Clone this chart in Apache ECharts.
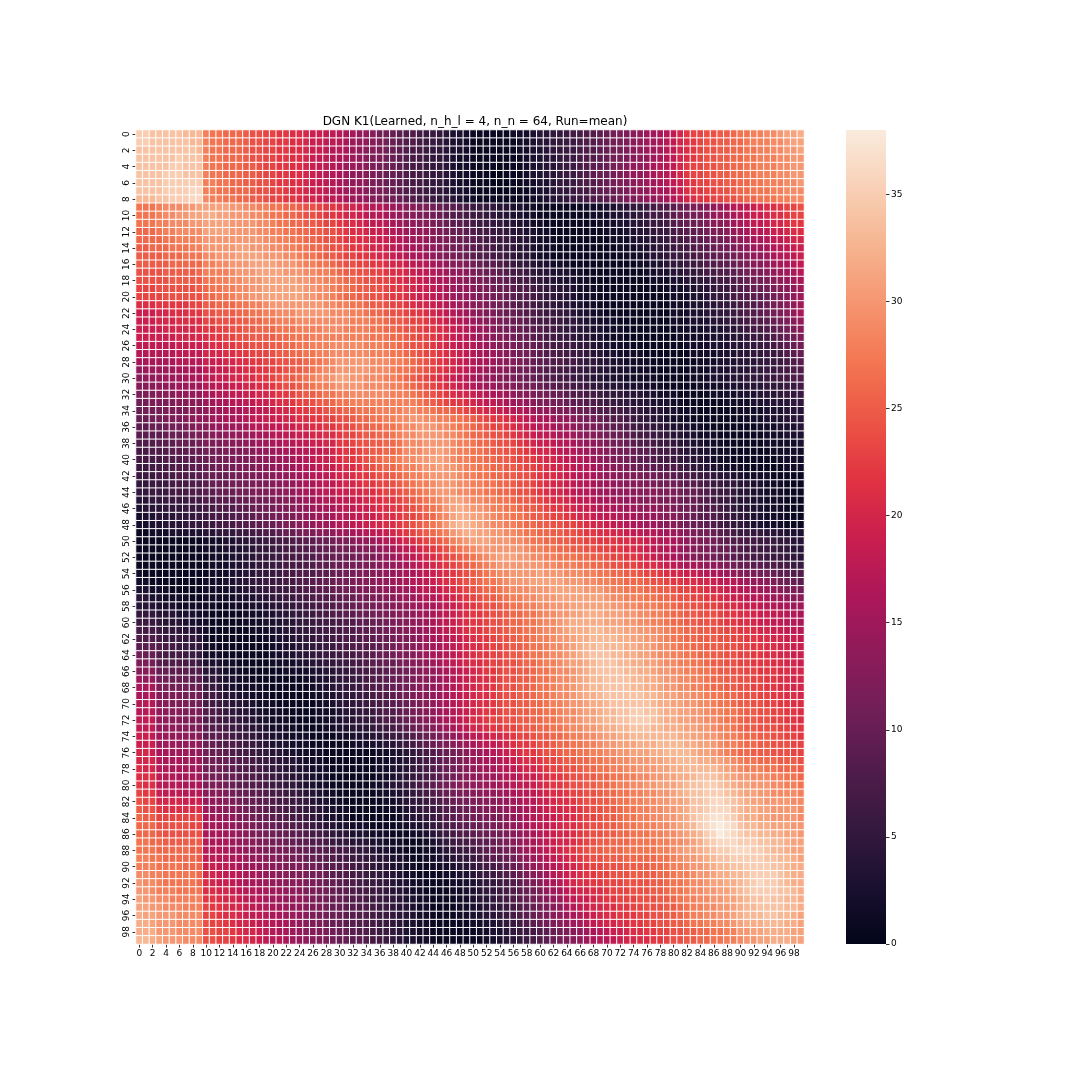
<!DOCTYPE html>
<html>
<head>
<meta charset="utf-8">
<script src="https://cdn.jsdelivr.net/npm/echarts@6/dist/echarts.min.js"></script>
<style>
  html, body { margin: 0; padding: 0; background: #fff; }
  #chart-container { width: 1080px; height: 1080px; }
</style>
</head>
<body>
<div id="chart-container"></div>
<script>
// node indices used as categories on both axes
const nodeIndex = [0,1,2,3,4,5,6,7,8,9,10,11,12,13,14,15,16,17,18,19,20,21,22,23,24,25,26,27,28,29,30,31,32,33,34,35,36,37,38,39,40,41,42,43,44,45,46,47,48,49,50,51,52,53,54,55,56,57,58,59,60,61,62,63,64,65,66,67,68,69,70,71,72,73,74,75,76,77,78,79,80,81,82,83,84,85,86,87,88,89,90,91,92,93,94,95,96,97,98,99];
const colorbarTicks = [0, 5, 10, 15, 20, 25, 30, 35];
const colorMax = 38;

// K1 values, one row per node (row i, column j)
const kernelRows = [
[35,35,34,34,34,34,34,33,33,33,28,27,27,26,26,26,25,24,24,23,23,22,22,21,21,20,19,19,18,18,17,16,16,14,14,13,11,11,10,9,8,8,7,6,6,5,4,3,3,2,1,1,1,1,1,1,2,2,2,3,4,4,5,5,6,7,7,8,8,9,10,11,12,12,13,14,15,15,16,17,18,20,22,23,23,24,24,25,25,26,27,27,28,28,29,29,30,31,31,32],
[35,35,34,34,34,34,34,34,33,33,28,27,27,26,26,26,25,24,24,23,23,22,22,21,21,20,19,19,18,18,17,16,15,14,14,13,12,11,10,9,8,8,7,6,6,5,4,3,3,2,1,1,1,1,1,1,1,2,2,3,4,4,5,5,6,6,7,8,8,9,10,11,11,12,13,14,15,15,16,17,18,20,21,22,23,24,24,25,25,26,26,27,28,28,28,29,29,30,31,31],
[34,34,34,34,34,34,34,34,34,33,28,27,27,26,26,26,25,24,24,23,23,22,22,21,21,20,19,19,18,17,17,16,15,14,13,13,12,11,10,9,8,7,7,6,5,5,4,3,3,2,1,1,1,1,1,1,1,2,2,3,3,4,5,5,6,6,7,8,8,9,10,11,11,12,13,14,15,15,16,17,18,20,21,22,23,24,24,25,25,26,26,27,27,28,28,29,29,30,30,31],
[34,34,34,34,34,34,35,34,34,34,28,27,27,26,26,26,25,24,24,23,23,22,22,21,21,20,19,18,18,17,16,16,15,14,13,12,12,11,10,9,8,7,7,6,5,5,4,3,2,2,1,1,1,1,1,1,1,1,2,3,3,4,4,5,6,6,7,8,8,9,10,11,11,12,13,14,14,15,16,17,18,20,21,22,23,24,24,25,25,26,26,27,27,28,28,28,29,29,30,30],
[34,34,34,34,34,35,35,34,34,34,28,27,27,26,26,26,25,25,24,23,23,22,22,21,21,20,19,18,18,17,16,15,15,14,13,12,11,11,10,9,8,7,7,6,5,5,4,3,2,2,1,1,1,1,0,1,1,1,2,3,3,4,4,5,6,6,7,8,9,9,10,11,12,13,14,14,15,16,17,17,18,20,22,23,23,24,24,25,25,26,26,27,27,28,28,28,29,29,30,30],
[34,34,34,34,35,35,35,34,34,34,28,27,27,26,26,26,25,25,24,23,23,22,22,21,21,20,19,18,17,17,16,15,14,13,13,12,11,10,10,9,8,7,7,6,5,5,4,3,2,2,1,1,1,0,0,1,1,1,2,3,3,4,4,5,6,6,7,8,9,10,10,11,12,13,14,14,15,16,17,17,18,20,22,23,23,24,24,25,25,26,26,27,27,28,28,28,29,29,30,30],
[34,34,34,34,35,35,35,35,35,35,28,28,27,27,26,26,25,25,24,24,23,22,22,21,21,20,19,18,18,17,16,15,14,14,13,12,11,10,10,9,8,7,7,6,5,5,4,3,2,2,1,1,1,0,0,0,1,1,2,2,3,3,4,5,5,6,7,8,8,9,10,11,12,12,13,14,15,15,16,17,18,19,21,22,23,23,24,24,25,25,26,26,27,27,28,28,28,29,29,30],
[34,34,34,34,35,35,35,35,36,36,28,28,27,27,26,26,26,25,24,24,23,23,22,21,21,20,19,19,18,17,16,15,15,14,13,12,12,11,10,9,8,8,7,6,5,5,4,3,3,2,1,1,1,1,0,0,1,1,1,2,3,3,4,5,5,6,7,7,8,9,10,10,11,12,13,14,14,15,16,16,17,19,21,22,22,23,23,24,24,25,26,26,27,27,27,28,28,29,29,29],
[33,33,33,34,34,35,35,35,36,36,29,28,28,27,27,26,26,25,25,24,23,23,22,22,21,20,20,19,18,18,17,16,15,14,14,13,12,11,11,10,9,8,7,7,6,5,5,4,3,2,2,1,1,1,1,1,1,1,1,2,2,3,4,4,5,6,6,7,8,8,9,10,11,12,12,13,14,14,15,16,17,18,20,21,22,22,23,23,24,24,25,26,26,27,27,27,28,28,29,29],
[27,27,27,28,29,29,29,30,30,31,31,31,31,31,30,30,29,29,28,28,27,27,26,26,25,24,24,23,22,22,21,20,20,19,18,17,17,16,15,14,13,13,12,12,11,10,9,9,8,7,6,6,5,5,4,4,3,3,2,2,1,1,1,1,1,1,1,2,2,2,3,3,4,4,5,5,6,7,8,8,9,10,11,12,12,13,14,15,16,17,18,18,19,20,21,21,22,23,23,24],
[27,27,27,28,29,29,30,30,31,31,32,32,31,31,30,30,30,29,29,28,27,27,26,26,25,24,24,23,22,22,21,20,20,19,18,17,17,16,15,14,13,13,12,12,11,10,9,8,8,7,6,6,5,5,4,4,3,3,2,2,1,1,1,1,1,1,1,1,2,2,2,3,3,4,4,5,6,7,7,8,9,10,11,11,12,13,14,15,15,16,17,18,19,19,20,21,21,22,23,23],
[27,27,27,28,28,29,29,29,30,30,31,31,31,31,30,30,30,30,29,29,28,27,27,26,26,25,25,24,23,23,22,21,21,20,19,18,18,17,16,15,14,14,13,13,12,11,10,9,9,8,7,6,6,5,5,4,4,3,3,2,2,1,1,1,1,1,1,1,1,2,2,2,3,3,4,4,5,6,6,7,8,9,10,10,11,12,13,13,14,15,16,17,18,18,19,20,20,21,22,22],
[26,26,26,27,28,28,29,29,29,29,31,31,31,31,30,30,30,30,29,29,28,28,27,27,26,26,25,25,24,24,23,22,21,21,20,19,19,18,17,16,15,15,14,14,13,12,11,10,10,9,8,7,7,6,6,5,4,4,3,3,2,2,1,1,1,1,1,1,1,1,2,2,2,3,3,4,4,5,6,6,7,8,9,9,10,11,12,12,13,14,15,16,17,17,18,19,19,20,21,21],
[26,26,26,26,27,27,28,28,28,29,30,30,30,30,30,30,30,30,30,29,29,28,28,27,27,26,26,25,24,24,23,22,22,21,21,20,19,19,18,17,16,15,15,14,13,12,12,11,10,10,9,8,7,7,6,6,5,4,4,3,2,2,2,1,1,1,1,1,1,1,1,2,2,2,3,3,4,4,5,6,7,7,8,9,9,10,11,11,12,13,14,15,16,16,17,18,18,19,20,20],
[25,25,26,26,26,27,27,27,28,28,30,30,30,30,30,31,31,30,30,30,29,29,28,28,27,27,26,26,25,24,24,23,22,22,21,20,20,19,18,17,16,16,15,14,14,13,12,11,11,10,9,8,8,7,6,6,5,4,4,3,2,2,2,1,1,1,1,1,1,1,1,1,2,2,2,3,3,4,5,5,6,7,7,8,9,9,10,11,11,12,13,14,15,15,16,17,17,18,19,19],
[25,25,25,25,26,26,26,27,27,27,29,29,30,30,30,31,31,31,31,30,30,30,29,29,28,27,27,26,25,25,24,23,23,22,22,21,20,20,19,18,17,16,16,15,14,13,12,12,11,10,9,8,8,7,7,6,5,4,4,3,2,2,1,1,1,1,1,1,1,1,1,1,1,2,2,2,3,4,4,5,6,6,7,7,8,9,9,10,10,11,12,13,14,14,15,16,17,17,18,19],
[25,25,25,25,25,26,26,26,26,26,28,28,29,29,30,30,30,31,31,31,31,30,30,30,29,28,28,27,27,26,25,24,24,23,23,22,22,21,20,20,19,18,17,17,16,15,14,13,13,12,11,10,9,9,8,7,6,5,5,4,3,3,2,2,2,1,1,1,1,1,1,1,1,1,1,2,2,3,3,4,5,5,6,6,7,8,8,9,9,10,11,12,13,13,14,15,16,16,17,18],
[24,24,24,24,25,25,25,25,25,26,28,28,28,28,29,30,30,30,31,31,31,31,30,30,30,29,29,28,28,27,26,25,25,24,24,23,23,22,21,21,20,19,18,18,17,16,15,14,14,13,12,11,10,10,9,8,7,7,6,5,4,4,3,3,3,2,2,1,1,1,1,1,1,1,1,1,2,2,3,3,4,4,5,5,6,7,7,8,8,9,10,11,12,12,13,14,15,15,16,17],
[24,24,24,24,24,25,25,25,25,25,27,27,28,28,29,29,30,30,30,31,31,31,31,31,30,30,29,29,28,28,27,26,26,25,24,24,23,23,22,21,20,20,19,18,17,16,16,15,14,13,12,12,11,10,10,9,8,7,7,6,5,4,4,3,3,3,2,2,1,1,1,1,1,1,1,1,1,2,2,2,3,3,4,4,5,5,6,7,7,8,9,10,11,11,12,13,14,14,15,16],
[23,23,23,24,24,24,24,24,24,25,26,27,27,28,28,29,29,30,30,31,31,31,31,31,31,30,30,29,29,28,27,27,26,25,25,24,24,23,22,22,21,20,19,19,18,17,16,15,14,14,13,12,12,11,10,10,9,8,8,7,6,5,5,4,4,3,2,2,2,1,1,1,1,1,1,1,1,1,1,2,2,2,3,3,4,4,5,6,6,7,8,9,10,10,11,12,13,13,14,15],
[23,23,23,23,24,24,24,24,24,24,26,26,27,27,28,29,29,30,30,31,31,31,31,31,31,30,30,29,29,28,27,26,26,25,25,24,24,23,22,22,21,20,19,19,18,17,16,15,14,14,13,12,12,11,11,10,9,8,8,7,6,5,5,4,4,3,2,2,2,1,1,1,1,1,1,1,1,1,1,1,2,2,2,3,3,4,5,5,6,7,8,8,9,9,10,11,12,13,14,15],
[21,21,21,22,22,22,22,22,23,23,25,25,26,26,26,27,27,28,28,29,30,30,30,30,30,30,30,30,29,29,28,28,27,27,26,25,25,24,23,23,22,21,20,20,19,18,17,16,15,14,13,13,12,11,11,10,9,8,8,7,6,5,5,4,4,3,3,2,2,1,1,1,1,1,1,1,1,1,1,1,2,2,2,3,3,4,4,5,5,6,7,8,8,9,10,11,12,13,14,15],
[19,19,19,20,20,21,21,21,22,22,24,24,25,25,25,26,26,27,27,28,28,29,29,29,30,30,30,30,30,29,29,29,28,28,27,26,26,25,24,24,23,22,22,21,20,19,18,17,16,15,14,13,12,12,11,10,10,9,8,8,7,6,6,5,5,4,3,3,2,2,1,1,1,1,1,1,1,1,1,1,2,2,2,3,3,4,4,5,5,6,7,8,8,9,10,11,12,13,14,16],
[19,19,19,20,20,20,21,21,21,21,23,23,24,24,24,25,25,26,26,27,27,28,28,28,29,29,29,29,29,29,29,29,28,28,28,27,27,26,25,25,24,23,23,22,21,20,19,18,17,16,15,14,13,13,12,11,10,10,9,8,7,7,6,6,5,5,4,3,3,2,2,2,1,1,1,1,1,1,1,1,2,2,2,3,3,3,4,4,5,5,6,7,8,8,9,10,11,12,13,14],
[19,19,19,19,20,20,20,20,20,21,22,22,23,23,24,24,25,25,26,26,26,27,27,27,28,28,28,28,29,29,29,28,28,28,28,27,27,26,26,25,24,24,23,22,22,21,20,19,18,17,16,15,14,13,12,11,11,10,9,9,8,7,7,6,5,5,4,4,3,3,2,2,2,1,1,1,1,1,1,1,1,2,2,2,2,3,3,3,4,4,5,6,7,7,8,9,10,11,12,13],
[19,19,19,19,19,19,20,20,20,20,21,22,22,23,23,24,24,25,25,25,25,26,26,27,27,27,28,28,28,28,28,28,28,28,28,27,27,27,26,26,25,24,23,23,22,21,20,19,18,17,16,15,14,13,13,12,11,10,10,9,8,7,7,6,6,5,4,4,3,3,2,2,2,1,1,1,1,1,1,1,1,2,2,2,2,2,3,3,3,4,4,5,6,6,7,8,9,10,11,12],
[18,18,18,18,18,18,19,19,19,19,20,21,21,22,22,23,23,24,24,24,25,25,26,26,27,27,28,28,28,29,29,29,29,29,28,28,28,27,27,26,25,24,24,23,22,21,20,19,18,18,17,16,15,14,13,12,12,11,10,10,9,8,7,7,6,6,5,5,4,3,3,2,2,2,1,1,1,1,1,1,1,1,2,2,2,2,3,3,3,4,4,5,5,6,6,7,8,9,10,11],
[17,17,17,17,17,17,18,18,18,18,20,20,20,21,21,22,22,23,23,23,24,25,25,26,26,27,27,28,28,29,29,29,29,29,29,28,28,28,27,27,26,25,24,23,23,22,21,20,19,18,17,16,15,15,14,13,12,11,11,10,9,8,8,7,7,6,6,5,4,4,3,3,2,2,2,2,1,1,1,1,1,1,1,2,2,2,2,3,3,3,4,4,5,5,6,6,7,8,9,10],
[16,16,16,16,16,16,17,17,17,17,19,19,19,20,20,21,21,22,22,23,23,24,24,25,25,26,27,27,28,29,30,30,30,30,30,29,29,29,28,28,27,26,25,24,23,22,21,20,19,18,17,16,16,15,14,13,13,12,11,10,9,9,8,8,7,7,6,5,5,4,4,3,3,2,2,2,2,1,1,1,1,1,1,1,2,2,2,3,3,3,4,4,4,5,5,6,6,7,8,9],
[14,15,15,15,15,15,16,16,16,16,18,18,19,19,20,20,21,21,22,22,23,23,24,25,25,26,27,28,29,29,30,30,30,30,30,29,29,29,28,27,27,26,25,24,23,22,21,20,19,18,17,16,15,14,14,13,12,11,11,10,9,8,8,7,7,6,6,5,5,4,4,3,3,3,2,2,2,1,1,1,1,1,1,2,2,2,3,3,3,4,4,4,5,5,6,6,7,7,8,8],
[13,14,14,14,15,15,15,16,16,16,18,18,19,19,20,20,21,21,22,22,23,24,25,25,26,27,28,29,29,30,31,31,30,30,29,29,29,28,28,27,26,25,24,23,22,21,20,19,18,17,16,15,14,14,13,12,12,11,10,10,9,8,8,7,7,6,6,5,4,4,3,3,3,2,2,2,2,2,1,1,1,1,1,2,2,2,3,3,3,4,4,5,5,5,6,6,7,7,8,8],
[13,13,13,14,14,14,15,15,15,15,17,17,18,18,19,19,20,20,21,21,22,23,24,24,25,26,27,28,28,29,30,30,30,30,29,29,29,29,28,28,27,26,25,24,23,22,21,20,19,18,17,16,15,15,14,13,13,12,11,11,10,9,9,8,8,7,7,6,5,5,4,4,4,3,3,3,2,2,2,1,1,1,1,1,2,2,2,2,3,3,3,4,4,4,5,5,5,6,6,7],
[12,12,12,13,13,13,14,14,14,14,16,16,17,17,18,18,19,19,20,20,21,22,22,23,24,25,25,26,27,27,28,28,29,29,29,29,29,29,28,28,28,27,26,25,24,23,22,21,20,20,19,18,17,16,16,15,14,13,13,12,11,11,10,10,9,8,8,7,7,6,5,5,5,4,4,4,3,3,2,2,2,1,1,1,1,1,2,2,2,2,3,3,3,4,4,4,5,5,5,6],
[11,11,12,12,12,12,13,13,13,13,15,15,16,16,17,17,18,18,19,19,20,21,21,22,23,23,24,25,25,26,27,27,28,28,28,28,28,28,28,28,28,28,27,26,25,24,23,22,22,21,20,19,18,18,17,16,15,15,14,13,12,12,11,11,10,9,9,8,8,7,6,6,5,5,4,4,4,3,3,3,2,2,1,1,1,1,1,1,2,2,2,2,3,3,3,4,4,4,5,5],
[10,11,11,11,12,12,12,12,13,13,14,15,15,16,16,16,17,17,18,18,19,20,20,21,22,22,23,23,24,25,25,26,26,27,27,27,28,28,28,28,29,29,28,28,27,26,26,25,24,23,22,21,20,20,19,18,17,17,16,15,14,14,13,12,12,11,10,10,9,8,8,7,7,6,6,5,4,4,4,3,3,2,2,2,1,1,1,1,1,1,2,2,2,2,3,3,3,4,4,4],
[10,10,11,11,12,12,12,13,13,14,14,15,15,16,16,16,17,18,18,19,19,19,20,20,21,21,22,22,23,23,24,24,25,26,26,27,27,28,28,29,29,30,30,29,29,28,28,27,27,26,25,24,23,22,22,21,20,19,18,17,16,16,15,14,14,13,12,11,11,10,9,8,8,7,6,5,5,4,4,3,2,2,2,1,1,1,1,1,1,1,1,2,2,2,3,3,3,4,4,4],
[9,9,10,10,11,11,11,12,12,13,13,14,14,15,15,15,16,17,17,18,18,18,19,19,20,20,21,21,22,22,23,23,24,25,25,26,26,27,27,28,29,29,30,30,30,29,29,28,27,27,26,25,24,23,23,22,21,20,19,18,17,17,16,15,15,14,13,12,12,11,10,9,9,8,7,6,6,5,5,4,3,3,3,2,2,1,1,1,1,1,1,1,1,2,2,2,3,3,3,4],
[9,9,9,9,10,10,10,11,11,12,12,13,13,14,14,14,15,15,16,16,17,17,18,18,19,19,20,20,21,21,22,23,23,24,25,25,26,26,27,28,29,29,30,30,30,30,29,29,28,27,26,26,25,24,24,23,22,21,20,19,18,18,17,16,16,15,14,13,13,12,11,10,10,9,8,7,7,6,6,5,4,4,3,3,2,2,2,1,1,1,1,1,1,1,2,2,2,3,3,3],
[8,8,8,9,9,9,10,10,10,11,12,12,12,13,13,13,14,14,15,15,16,16,17,17,18,18,19,19,20,20,22,22,23,24,24,25,25,26,26,27,29,29,29,30,30,30,30,29,28,28,27,26,26,25,24,24,23,22,21,20,19,19,18,17,17,16,15,14,14,13,12,11,11,10,9,8,8,7,6,6,5,4,4,3,3,2,2,2,1,1,1,1,1,1,2,2,2,2,2,3],
[7,7,8,8,8,9,9,9,10,10,11,11,11,12,12,12,13,13,14,14,15,15,16,16,17,17,18,18,19,20,21,22,22,23,24,25,25,26,26,27,29,29,29,30,30,31,30,29,28,28,27,27,26,25,25,24,24,23,22,21,20,20,19,18,17,17,16,15,14,14,13,12,11,11,10,9,9,8,7,7,6,5,4,4,3,3,2,2,2,1,1,1,1,1,1,2,2,2,2,2],
[7,7,7,7,8,8,8,9,9,10,10,11,11,11,12,12,12,13,13,14,14,15,15,16,16,17,18,19,19,20,21,22,22,23,24,25,26,27,27,28,29,29,30,30,31,31,30,29,28,28,27,27,26,26,25,25,24,23,23,22,21,20,20,19,18,17,17,16,15,14,13,12,12,11,10,9,9,8,7,7,6,5,5,4,4,3,2,2,2,1,1,1,1,1,1,1,2,2,2,2],
[6,6,7,7,7,8,8,8,9,9,10,10,11,11,11,12,12,12,13,13,14,14,15,15,16,17,17,18,19,19,20,21,21,22,23,24,25,26,26,27,28,28,29,30,30,31,30,30,29,28,28,27,27,26,26,25,25,24,23,23,22,21,20,20,19,18,17,17,16,15,14,13,13,12,11,10,10,9,9,8,8,7,6,5,5,4,3,3,2,2,2,1,1,1,1,1,1,2,2,2],
[6,6,6,7,7,7,8,8,8,9,10,10,10,10,11,11,12,12,12,13,13,14,14,15,15,16,17,17,18,19,20,20,21,22,22,23,24,24,25,26,27,28,28,29,30,30,30,30,29,28,28,27,27,26,26,25,25,24,24,23,22,21,21,20,19,18,17,17,16,15,14,14,13,13,12,12,11,11,10,10,9,8,8,7,6,6,5,4,4,3,3,2,2,2,2,1,1,1,1,1],
[5,5,6,6,6,7,7,7,8,8,9,10,10,10,11,11,11,12,12,12,13,13,14,14,15,16,16,17,18,18,19,20,20,21,22,22,23,23,24,25,26,27,28,28,29,30,30,30,29,29,28,28,27,27,26,26,25,24,24,23,22,21,20,20,19,18,17,17,16,15,15,14,14,13,13,13,12,12,11,11,11,10,9,9,8,7,6,6,5,5,4,4,3,3,2,2,2,1,1,1],
[5,5,6,6,6,7,7,7,8,8,9,9,10,10,10,11,11,12,12,12,13,13,14,14,15,16,16,17,18,18,19,19,20,20,21,21,22,23,23,24,25,26,27,28,29,30,30,30,29,29,28,28,27,27,26,26,25,24,24,23,22,21,20,20,19,18,17,17,16,15,15,14,14,14,13,13,13,13,12,12,12,11,10,10,9,8,7,6,6,5,4,4,3,3,2,2,2,1,1,1],
[4,4,5,5,6,6,6,6,7,7,8,8,9,9,9,10,10,11,11,11,12,12,13,13,14,15,15,16,17,17,18,18,19,19,20,21,21,22,22,23,24,25,26,27,28,29,30,31,31,30,29,29,28,28,27,27,26,25,25,24,23,22,21,21,20,19,18,18,17,16,16,15,15,14,14,13,13,13,12,12,12,11,10,10,9,8,7,6,6,5,4,4,3,3,2,2,2,1,1,1],
[3,4,4,4,5,5,5,6,6,6,7,7,8,8,8,9,9,10,10,11,11,12,12,13,13,14,15,15,16,16,17,18,18,19,19,20,21,21,22,22,23,24,25,26,27,28,30,31,32,31,30,30,29,28,28,27,27,26,25,25,24,23,22,22,21,20,19,19,18,17,17,16,16,15,15,14,14,14,13,13,12,11,11,10,9,8,8,7,6,5,4,4,3,3,2,2,2,1,1,1],
[2,3,3,4,4,4,5,5,5,6,6,7,7,7,8,8,9,9,10,10,11,11,12,12,13,14,14,15,15,16,17,17,18,18,19,19,20,21,21,22,23,23,24,25,26,28,29,31,32,32,31,31,30,29,28,28,27,27,26,25,25,24,23,23,22,21,20,20,19,18,18,17,17,16,16,15,15,14,14,13,13,12,11,10,9,9,8,7,6,5,5,4,3,3,2,2,2,1,1,1],
[2,2,3,3,4,4,4,5,5,5,6,6,7,7,7,8,8,9,9,10,10,11,12,12,13,14,14,15,15,16,17,17,18,18,19,20,20,21,21,22,23,24,25,26,27,28,30,32,33,33,32,31,30,29,29,28,28,27,26,26,25,25,24,24,23,23,22,21,20,20,19,18,18,17,16,16,15,15,14,13,13,12,11,10,10,9,8,7,6,5,5,4,3,3,2,2,2,1,1,1],
[1,1,2,2,2,3,3,3,3,3,4,4,5,5,5,6,6,7,7,8,8,9,10,10,11,12,12,13,13,14,15,15,16,16,17,18,18,19,20,21,22,23,24,25,26,27,28,30,31,32,32,31,31,30,30,29,29,28,27,27,26,26,25,25,24,24,23,22,22,21,21,20,20,19,18,18,17,17,16,15,15,14,13,12,11,11,10,9,8,7,6,6,5,5,4,4,4,3,3,3],
[1,1,1,1,1,1,1,1,1,1,2,2,2,3,3,4,4,5,5,6,6,7,7,8,8,9,9,10,10,11,12,12,13,14,14,15,16,17,18,19,20,21,22,23,24,25,26,28,29,30,31,31,31,30,30,30,29,29,28,27,27,26,26,25,25,24,24,23,23,22,22,22,21,21,20,20,19,18,17,17,16,15,14,13,12,12,11,10,9,8,8,7,7,6,6,6,5,5,4,4],
[1,1,1,1,1,1,1,1,1,1,2,2,2,3,3,3,4,4,5,5,6,6,7,7,8,8,9,9,10,10,11,11,12,12,13,13,14,15,16,17,18,19,20,21,22,23,24,26,27,28,29,30,30,30,30,30,30,30,29,28,28,27,27,26,26,25,25,24,24,23,23,22,22,21,21,20,19,18,17,17,16,15,14,13,12,12,11,10,10,9,8,7,7,6,6,6,5,5,4,4],
[1,1,1,1,1,1,1,1,1,1,1,2,2,2,3,3,4,4,5,5,6,6,7,7,7,8,8,9,9,10,10,10,11,11,12,12,13,14,15,16,17,18,19,20,21,22,23,24,25,26,27,28,29,30,31,31,31,30,30,29,29,28,28,27,27,27,26,26,25,25,24,23,23,22,22,21,20,19,18,17,16,15,14,13,12,12,11,10,10,9,8,8,7,7,6,6,6,5,5,4],
[1,1,1,1,1,1,1,1,1,1,1,2,2,2,3,3,4,4,5,5,6,6,7,7,7,8,8,9,9,10,10,11,11,11,12,12,13,14,14,15,16,17,18,19,20,21,22,23,24,25,26,27,28,29,30,30,30,30,30,30,30,29,29,28,28,28,27,27,26,26,25,24,24,23,23,22,21,21,20,19,18,17,16,16,15,14,14,13,12,11,10,10,9,9,8,8,7,7,6,6],
[2,1,1,1,1,1,1,1,1,1,1,2,2,2,3,3,4,4,5,5,6,6,7,7,8,8,8,9,9,10,10,11,11,12,12,13,13,14,14,15,16,16,17,18,19,20,21,22,23,24,25,26,27,28,29,29,30,30,30,30,31,30,30,30,29,29,29,28,28,27,27,26,26,25,25,24,23,23,22,21,20,20,19,19,18,17,16,16,15,14,13,12,12,11,11,10,9,9,8,8],
[2,2,1,1,1,1,1,1,1,1,2,2,2,3,3,4,4,5,5,6,6,6,7,7,8,8,9,9,10,10,11,11,12,12,13,13,14,14,15,15,16,17,17,18,19,20,21,22,23,24,25,26,27,27,28,29,30,30,30,31,31,31,31,31,30,30,30,29,29,28,28,27,27,26,26,26,25,24,24,23,22,22,21,21,20,20,19,18,18,17,16,15,14,14,13,12,11,10,10,9],
[3,3,2,2,2,1,1,1,1,1,2,2,2,2,3,3,4,4,5,5,6,6,6,7,7,8,8,9,9,10,10,11,11,12,12,13,13,14,14,15,15,16,17,18,18,19,20,21,22,23,24,25,26,26,27,28,29,29,29,30,30,30,31,31,31,31,31,30,30,30,29,28,28,27,27,27,26,26,25,25,24,23,23,22,22,21,20,20,19,18,17,17,16,15,15,14,13,12,12,11],
[4,4,3,3,2,2,2,2,1,1,2,2,2,2,2,3,3,3,4,4,5,5,6,6,7,7,8,8,8,9,9,10,10,11,11,12,12,13,13,14,15,15,16,17,17,18,19,20,21,22,23,24,25,25,26,27,28,28,29,29,30,30,30,31,31,31,31,31,31,31,30,29,29,28,28,28,27,27,26,26,25,24,24,23,23,22,22,21,20,19,19,18,17,17,16,15,15,14,13,13],
[4,4,4,3,3,3,2,2,2,2,2,2,1,1,2,2,2,3,3,3,4,4,5,5,6,6,7,7,8,8,9,9,10,10,11,11,12,12,13,13,14,15,15,16,16,17,18,19,20,21,22,23,24,24,25,26,27,27,28,28,29,29,30,30,30,31,31,31,31,31,31,30,30,29,29,28,28,28,27,27,26,25,25,24,24,23,23,22,21,21,20,19,19,18,17,17,16,16,15,15],
[5,5,5,4,4,4,3,3,3,2,2,1,1,1,1,1,2,2,2,3,3,4,4,5,5,6,6,7,7,8,8,9,9,10,10,11,11,12,12,13,13,14,15,15,16,17,18,19,20,21,22,22,23,24,24,25,26,26,27,27,28,29,29,30,30,31,31,32,32,32,31,31,31,30,30,29,29,28,28,27,26,26,25,25,24,24,24,23,22,22,21,21,20,19,19,18,18,17,17,16],
[6,6,6,5,4,4,4,3,3,2,2,1,1,1,1,1,2,2,2,3,3,3,4,4,5,5,6,6,7,7,7,8,8,9,9,10,10,11,12,12,13,14,14,15,16,17,18,19,20,21,22,22,23,24,24,25,26,26,27,27,28,29,29,30,31,32,32,32,32,32,31,31,31,30,30,29,29,28,28,27,26,26,25,25,24,24,24,23,22,22,21,21,20,19,19,18,18,17,17,16],
[7,7,7,6,5,5,5,4,4,3,2,1,1,1,1,1,1,2,2,2,3,3,4,4,5,5,6,6,7,7,7,8,8,9,9,10,10,11,12,12,13,14,14,15,16,17,18,19,20,21,22,22,23,24,24,25,26,26,27,27,28,29,29,30,31,32,32,32,33,33,32,32,32,31,31,30,30,29,29,28,27,27,26,26,25,25,24,24,23,23,22,22,21,20,20,19,19,18,18,17],
[8,8,8,7,6,6,6,5,5,4,2,1,1,1,1,1,1,1,1,2,2,3,3,4,4,5,5,6,6,7,7,8,8,8,9,9,10,10,11,12,12,13,14,15,16,16,17,18,19,20,21,22,22,23,24,24,25,26,26,27,28,28,29,30,30,31,32,32,33,33,33,33,32,32,31,31,30,30,29,28,27,27,26,26,25,25,25,24,24,23,23,22,22,21,21,20,20,19,19,18],
[9,9,9,8,7,7,6,6,5,5,2,2,1,1,1,1,1,1,1,1,2,2,3,3,4,4,5,5,6,6,7,7,8,8,8,9,9,10,11,12,12,13,14,15,15,16,17,18,19,20,21,21,22,23,23,24,25,25,26,27,27,28,29,29,30,31,32,33,33,34,33,33,33,32,32,31,31,30,29,29,28,27,27,26,26,25,25,25,24,24,23,23,22,22,21,21,20,20,19,19],
[11,10,10,8,7,7,7,6,6,5,2,2,2,1,1,1,1,1,1,1,2,2,3,3,4,4,5,5,6,6,6,7,7,8,8,9,10,10,11,12,12,13,14,15,16,16,17,18,19,20,21,22,22,23,23,24,25,25,26,27,27,28,29,29,30,31,32,33,34,34,34,33,33,32,32,31,31,30,29,29,28,28,27,27,26,26,25,25,24,24,23,23,22,22,21,21,20,20,19,19],
[12,12,11,9,8,8,8,7,7,6,3,3,3,2,2,1,1,1,1,1,2,2,2,2,3,3,4,4,5,5,6,6,7,7,8,9,9,10,10,11,12,13,13,14,15,16,17,18,19,20,21,21,22,23,23,24,24,25,26,26,27,28,28,29,30,31,31,32,33,34,34,34,33,33,32,32,31,31,30,29,29,28,28,27,27,26,25,25,24,24,23,23,22,22,22,21,21,20,20,19],
[13,13,13,10,10,9,9,9,8,8,4,4,4,2,2,2,1,1,1,1,1,1,2,2,2,2,3,3,4,4,5,5,6,7,7,8,8,9,10,10,11,12,13,14,14,15,16,17,18,19,20,21,22,22,23,24,24,25,25,26,27,27,28,29,29,30,31,32,33,34,34,34,34,33,33,32,32,31,30,30,29,29,28,28,27,27,26,25,25,24,24,23,23,22,22,22,21,21,20,20],
[15,14,14,11,11,10,10,10,9,9,5,5,4,3,3,2,2,1,1,1,1,1,1,1,1,2,2,3,3,4,5,5,6,6,7,8,8,9,10,10,11,12,13,13,14,15,16,17,18,19,20,21,21,22,23,24,24,25,25,26,27,27,28,29,29,30,31,32,33,33,34,34,34,34,33,33,32,32,31,30,30,29,29,28,28,27,26,26,25,25,24,24,23,23,22,22,21,21,20,20],
[16,16,16,12,12,11,11,11,10,10,6,6,5,3,3,2,2,2,2,1,1,1,1,1,1,1,2,3,3,4,5,5,6,6,7,8,8,9,10,10,11,12,13,13,14,15,16,17,18,19,20,21,21,22,23,24,24,25,25,26,27,27,28,29,29,30,31,32,33,33,34,34,34,34,33,33,32,32,31,30,30,29,29,28,28,27,26,26,25,25,24,24,23,23,22,22,21,21,20,20],
[16,16,16,13,12,12,12,11,11,11,7,7,6,4,4,3,3,2,2,2,1,1,1,1,1,1,2,2,3,3,4,5,5,6,6,7,8,8,9,10,11,12,13,13,14,15,16,17,18,19,20,21,21,22,23,24,24,25,25,26,27,27,28,29,29,30,31,32,32,33,34,34,34,34,34,34,33,33,32,31,31,30,30,29,29,28,27,27,26,26,25,24,24,23,23,22,22,21,21,20],
[17,17,17,13,13,12,12,12,11,11,7,7,6,5,4,4,3,3,2,2,2,1,1,1,1,1,1,2,2,3,4,4,5,5,6,7,7,8,9,9,10,11,12,13,14,15,16,17,18,19,20,21,21,22,23,24,24,25,25,26,26,27,28,28,29,30,30,31,32,32,33,34,34,34,34,34,34,33,32,32,31,31,30,30,29,29,28,27,27,26,25,25,24,24,23,23,22,22,21,21],
[17,17,17,14,13,13,13,12,12,12,8,8,7,5,5,4,4,3,3,2,2,2,1,1,1,1,1,2,2,2,3,4,4,5,5,6,7,8,8,9,10,11,12,13,14,15,16,17,18,19,20,21,22,22,23,24,24,25,25,26,26,27,27,28,29,29,30,31,31,32,33,33,34,34,35,35,34,34,33,32,32,31,31,30,30,29,28,28,27,27,26,25,25,24,24,23,23,22,22,21],
[18,18,18,14,14,13,13,12,12,12,8,8,7,6,6,5,4,4,3,3,2,2,2,1,1,1,1,2,2,3,3,4,4,5,5,6,7,8,8,9,10,11,12,13,14,15,16,17,18,19,21,21,22,23,23,24,24,25,25,26,26,27,27,28,29,29,30,31,31,32,33,33,34,34,35,35,35,34,33,32,32,31,31,30,30,29,29,28,27,27,26,25,25,24,24,23,23,22,22,21],
[18,18,18,14,14,14,13,13,12,12,9,8,8,7,6,6,5,4,4,3,2,2,2,2,1,1,1,1,2,2,3,3,4,4,4,5,6,6,7,8,9,10,11,12,13,14,15,16,17,18,20,20,21,22,22,23,23,24,25,25,26,26,27,27,28,29,29,30,30,31,32,32,33,33,34,34,34,33,33,32,32,32,31,31,30,30,29,28,28,27,26,25,25,24,24,24,23,23,22,22],
[19,19,18,15,15,14,14,14,13,13,9,9,9,8,7,6,6,5,4,4,3,3,2,2,2,2,1,1,1,1,2,2,3,3,3,4,4,5,6,6,7,8,9,10,11,12,13,14,15,16,18,18,19,20,20,21,22,23,23,24,25,25,26,26,27,28,28,29,29,30,31,31,32,32,33,33,33,33,33,33,33,32,32,31,31,30,30,29,28,28,27,26,26,25,25,24,24,23,23,22],
[19,19,19,15,15,15,14,14,14,14,10,10,9,8,8,7,6,6,5,4,3,3,3,2,2,2,1,1,1,1,1,1,2,2,2,3,3,4,4,5,6,7,8,9,10,11,12,13,14,15,16,17,18,18,19,20,21,22,22,23,24,24,25,26,26,27,27,28,28,29,30,30,31,31,31,32,32,32,33,33,33,33,32,32,31,31,30,29,28,28,27,26,26,25,25,24,24,24,23,23],
[20,20,19,16,16,15,15,15,14,14,11,10,10,9,8,7,7,6,5,5,4,4,3,3,2,2,2,2,1,1,1,1,1,1,1,1,2,2,3,3,4,5,6,7,8,9,10,11,12,13,15,15,16,17,18,19,20,21,22,22,23,24,24,25,26,26,27,27,28,28,29,29,30,30,31,31,31,32,32,33,33,33,33,32,31,31,30,29,28,27,26,26,25,25,25,24,24,24,23,23],
[20,20,20,17,16,16,16,15,15,15,11,11,10,10,9,8,8,7,6,6,5,4,4,4,3,2,2,2,1,1,1,1,1,1,1,1,2,2,3,3,4,5,6,7,8,9,10,11,12,13,15,15,16,16,17,18,19,20,21,21,22,23,23,24,25,25,26,26,27,27,28,28,29,29,30,30,30,31,31,32,32,33,33,33,32,32,31,31,30,29,28,27,27,26,26,26,25,25,25,24],
[21,20,20,17,17,16,16,16,15,15,11,11,11,10,9,8,8,7,7,6,5,5,4,4,3,3,2,2,2,1,1,1,1,1,1,1,2,2,3,3,4,5,6,7,8,9,10,11,12,13,14,15,15,16,17,17,18,19,20,20,21,22,23,23,24,24,25,26,26,27,27,28,28,29,29,30,30,30,31,31,32,32,33,33,33,33,33,32,31,30,29,28,28,28,27,27,26,26,26,25],
[21,21,21,18,17,17,16,16,16,15,12,11,11,10,10,9,8,8,7,7,6,5,5,4,4,3,3,2,2,1,1,1,1,1,1,1,2,2,3,4,4,5,6,7,8,9,10,11,12,13,14,14,15,15,16,17,17,18,19,19,20,21,22,22,23,24,24,25,25,26,26,27,27,28,28,29,29,30,30,31,31,32,32,33,34,34,34,33,32,31,30,30,29,29,29,28,28,27,27,26],
[22,21,21,18,17,17,17,16,16,16,12,12,12,11,10,9,9,8,8,7,6,6,5,5,4,3,3,2,2,1,1,1,1,1,1,2,2,3,4,4,5,6,7,8,9,10,11,12,13,13,14,14,15,15,16,16,17,18,18,19,20,21,22,22,23,24,24,25,25,26,26,27,28,28,29,29,30,30,31,31,31,32,33,34,34,35,35,34,33,32,31,31,30,30,30,29,29,28,28,27],
[23,22,22,19,18,18,18,17,17,17,13,13,13,12,11,10,10,9,9,8,7,7,6,6,5,4,4,3,2,2,1,1,1,1,1,1,2,2,3,3,4,5,6,7,8,9,10,11,12,12,13,13,14,14,15,15,16,17,17,18,19,20,21,21,22,23,23,24,24,25,26,26,27,27,28,28,29,29,30,30,31,32,33,34,34,35,35,35,34,33,32,31,31,30,30,29,29,29,29,28],
[24,23,23,20,20,20,20,19,19,19,14,14,13,13,12,11,10,10,9,9,8,7,7,6,6,5,4,3,3,2,2,1,1,1,1,1,1,2,2,3,4,5,5,6,7,8,9,10,11,11,12,12,13,13,14,14,15,16,17,17,19,19,20,21,21,22,23,24,24,25,25,26,27,27,28,28,29,29,30,30,31,31,32,34,34,35,36,36,35,34,33,32,31,31,30,30,30,30,29,29],
[25,24,24,22,21,21,21,21,21,21,15,14,14,13,13,12,11,10,10,9,8,8,7,7,6,5,5,4,3,3,2,2,1,1,1,1,1,1,2,2,3,4,5,6,6,7,8,9,10,10,11,12,12,13,13,14,15,15,16,17,18,19,20,20,21,21,22,23,24,24,25,25,26,27,27,28,28,29,29,30,30,31,32,34,34,35,36,36,36,34,33,32,32,31,31,30,30,30,30,29],
[26,25,25,23,23,23,23,23,23,23,16,15,15,14,14,12,12,11,10,10,9,8,8,7,7,6,5,4,3,3,2,2,1,1,1,1,1,1,1,2,3,4,4,5,6,7,8,9,10,10,11,11,12,12,12,13,14,15,16,17,18,18,19,20,20,21,22,23,23,24,25,25,26,27,27,28,28,29,29,30,30,31,32,34,35,36,37,37,36,35,33,32,32,31,31,30,30,30,30,29],
[26,26,26,24,24,24,24,24,23,23,16,16,15,15,14,13,13,12,11,11,10,9,9,8,8,7,6,5,4,4,3,3,2,2,2,1,1,1,1,2,2,3,3,4,5,6,7,8,9,9,10,10,11,12,12,13,14,15,16,17,18,18,19,20,21,21,22,23,24,24,25,25,26,27,27,28,28,28,29,29,30,31,32,33,35,36,37,38,37,36,34,33,33,32,32,31,31,31,30,30],
[26,26,26,25,24,24,24,24,24,24,16,16,16,15,15,14,13,12,12,11,11,10,10,9,9,8,7,7,6,5,4,4,3,3,3,2,2,2,1,1,1,2,2,3,4,5,6,7,8,8,9,10,10,11,11,12,13,14,15,16,17,18,19,20,20,21,22,23,24,24,25,25,26,26,27,27,27,28,28,29,29,30,31,32,33,35,36,38,37,36,35,34,34,33,33,32,32,31,31,30],
[27,27,26,26,25,25,25,25,25,25,17,16,16,16,15,14,14,13,12,12,11,11,10,10,9,9,8,8,7,6,5,5,4,4,4,3,3,2,2,2,1,1,1,2,3,4,5,6,7,7,8,9,9,10,11,12,13,14,15,16,17,18,19,20,20,21,22,23,24,25,25,26,26,26,27,27,27,27,28,28,29,29,30,31,32,34,35,36,36,36,35,35,35,34,34,33,33,32,31,31],
[27,27,27,26,26,26,26,26,25,25,17,17,17,16,15,15,14,13,13,12,12,12,11,11,10,10,9,9,8,8,7,7,6,5,5,4,3,3,2,2,1,1,1,2,2,3,4,5,6,6,7,8,9,10,10,11,12,14,15,16,17,18,19,20,21,22,23,24,25,25,26,26,26,27,27,27,27,27,28,28,29,30,31,31,32,33,34,35,35,36,36,36,35,35,34,33,33,32,31,31],
[28,28,27,27,26,26,26,26,26,25,18,18,17,17,16,16,15,14,14,13,13,12,12,11,11,10,10,9,9,8,7,7,6,6,5,5,4,4,3,3,2,1,1,2,2,3,3,4,5,5,6,7,8,9,9,10,11,13,14,15,16,17,18,19,20,21,22,23,24,24,25,25,25,26,26,26,26,26,27,27,28,29,30,30,31,32,33,34,34,35,35,35,35,35,34,34,33,33,32,31],
[28,28,28,27,27,27,27,26,26,26,19,19,18,18,17,16,15,15,14,14,13,13,12,12,12,11,11,10,9,9,8,8,7,6,6,5,4,4,3,3,2,2,1,1,2,2,2,3,4,4,5,6,7,7,8,9,10,11,13,14,15,16,17,18,19,20,21,22,23,23,24,24,24,25,25,25,25,26,26,27,28,28,29,30,30,31,32,33,33,34,34,35,35,35,35,34,34,33,32,32],
[29,29,28,28,27,27,27,27,27,26,20,20,19,18,18,17,16,16,15,14,14,13,13,12,12,12,11,11,10,9,8,8,7,7,6,5,5,4,4,3,2,2,1,1,1,1,2,2,3,3,4,5,6,6,7,8,9,10,12,13,14,15,17,18,19,20,21,22,22,23,23,24,24,24,25,25,25,25,26,26,27,28,28,29,30,30,31,32,32,33,33,34,35,35,35,35,34,33,32,32],
[30,29,29,28,27,27,27,27,27,26,21,20,19,19,18,17,16,16,15,15,14,14,13,13,13,12,12,11,10,10,9,8,8,7,6,6,5,5,4,3,3,2,2,1,1,1,1,2,2,3,3,4,5,5,6,7,8,9,11,12,13,15,16,17,19,20,21,21,22,22,23,23,23,24,24,24,24,25,25,26,27,27,28,29,29,30,31,31,32,32,33,34,35,36,35,35,34,33,32,32],
[30,30,29,28,28,28,27,27,27,27,21,21,20,20,19,18,17,17,16,16,15,15,14,14,13,12,12,11,11,10,9,9,8,7,7,6,6,5,4,4,3,2,2,1,1,1,1,2,2,3,3,4,5,5,6,7,8,9,10,11,12,14,15,16,18,19,20,20,21,21,22,23,23,23,24,24,24,25,25,26,27,27,28,29,29,30,30,31,31,32,33,34,35,35,35,35,34,34,33,32],
[31,30,30,29,29,28,28,28,28,28,22,22,21,20,20,19,18,17,17,16,15,15,14,14,14,13,12,11,11,10,10,9,8,8,7,6,6,5,5,4,3,3,2,2,1,1,1,1,2,2,3,4,4,5,6,7,8,9,10,11,12,13,14,15,17,18,19,19,20,21,22,22,23,23,23,24,24,24,25,25,26,27,28,28,29,29,30,30,31,31,32,33,34,34,35,34,34,33,33,32],
[31,31,30,30,29,29,29,28,28,28,23,22,22,21,20,20,19,18,17,17,16,15,15,14,14,13,12,12,11,10,10,9,9,8,8,7,6,6,5,4,4,3,2,2,1,1,1,1,2,2,3,3,4,5,5,6,7,8,9,10,11,12,13,14,16,17,18,19,20,20,21,21,22,22,23,23,24,24,24,25,25,26,27,28,28,29,29,30,30,31,32,33,33,34,34,34,34,33,33,32],
[32,31,31,30,30,30,29,29,29,29,23,23,22,21,21,20,19,18,18,17,16,16,15,15,14,13,12,11,11,10,10,9,9,8,8,7,6,6,5,4,4,3,2,2,1,1,1,1,2,2,3,3,4,4,5,6,7,8,9,10,11,12,13,14,15,16,17,18,19,20,21,21,22,22,22,23,23,24,24,25,25,26,27,28,28,29,29,30,30,31,32,33,33,33,34,34,33,33,32,31],
[32,32,31,30,30,30,29,29,29,29,24,23,23,22,21,20,20,19,18,18,17,16,16,15,14,13,12,12,11,10,10,9,9,8,8,7,6,6,5,4,3,3,2,2,1,1,1,1,1,1,2,2,3,3,4,5,6,7,8,9,10,11,12,13,14,15,16,17,18,19,20,20,21,21,22,22,23,23,24,24,25,25,26,27,27,28,28,29,29,30,31,32,32,32,33,33,33,32,32,31],
[32,32,32,30,30,30,29,29,29,29,24,24,23,23,22,21,20,20,19,18,17,16,16,15,14,13,13,12,12,11,10,10,9,8,8,7,6,6,5,4,3,3,2,2,1,1,1,1,1,1,1,2,2,3,3,4,5,6,6,7,8,9,10,11,12,13,14,15,16,17,18,19,19,20,21,21,22,22,23,23,24,24,25,25,26,26,27,27,28,28,30,30,31,31,32,32,32,32,31,31],
[33,33,32,31,30,30,30,29,29,29,24,24,23,23,22,21,21,20,19,18,17,17,16,15,14,14,13,12,12,11,10,10,9,9,8,7,7,6,5,4,3,3,2,2,1,1,1,1,1,1,1,1,2,2,3,4,4,5,6,7,8,9,10,11,12,13,14,15,16,17,17,18,19,20,20,21,21,22,22,23,24,24,25,25,26,26,27,27,28,28,29,30,30,31,31,32,32,32,31,31]
];

const rocketStops = ['#03051A', '#1A1030', '#35193E', '#511C4B', '#701F57', '#8E1B5A', '#AD1759',
  '#CA1E4E', '#E13342', '#EC5545', '#F37651', '#F59570', '#F6B48F', '#F8D0B6', '#FAEBDD'];

try {
  const cells = [];
  kernelRows.forEach(function (row, i) {
    row.forEach(function (v, j) {
      cells.push([j, i, v]);
    });
  });

  const chartDom = document.getElementById('chart-container');
  const myChart = echarts.init(chartDom, null, { renderer: 'canvas' });

  const font = 'DejaVu Sans';
  const gradient = new echarts.graphic.LinearGradient(0, 1, 0, 0,
    rocketStops.map(function (c, k) { return { offset: k / (rocketStops.length - 1), color: c }; }));

  const option = {
    backgroundColor: '#ffffff',
    animation: false,
    title: {
      text: 'DGN K1(Learned, n_h_l = 4, n_n = 64, Run=mean)',
      left: 470,
      top: 111,
      textAlign: 'center',
      textStyle: { fontFamily: font, fontSize: 12, fontWeight: 'normal', color: '#000' }
    },
    grid: [
      { left: 136, top: 130, width: 668, height: 814 },
      { left: 846, top: 130, width: 40, height: 814 }
    ],
    xAxis: [
      {
        type: 'category', gridIndex: 0, data: nodeIndex, position: 'bottom',
        axisLine: { show: false },
        axisTick: { show: true, interval: 1, alignWithLabel: true, length: 3.5, lineStyle: { color: '#000', width: 0.8 } },
        axisLabel: { interval: 1, fontFamily: font, fontSize: 9, color: '#000', margin: 5 },
        splitLine: { show: false }
      },
      { type: 'value', gridIndex: 1, show: false, min: 0, max: 1 }
    ],
    yAxis: [
      {
        type: 'category', gridIndex: 0, data: nodeIndex, inverse: true,
        axisLine: { show: false },
        axisTick: { show: true, interval: 1, alignWithLabel: true, length: 3.5, lineStyle: { color: '#000', width: 0.8 } },
        axisLabel: { interval: 1, rotate: 90, fontFamily: font, fontSize: 9, color: '#000', margin: 5 },
        splitLine: { show: false }
      },
      {
        type: 'value', gridIndex: 1, position: 'right', min: 0, max: colorMax, interval: 5,
        axisLine: { show: false, onZero: false },
        axisTick: { show: true, inside: false, length: 3.5, lineStyle: { color: '#000', width: 0.8 } },
        axisLabel: {
          fontFamily: font, fontSize: 9, color: '#000', margin: 5, showMaxLabel: false,
          formatter: function (v) { return colorbarTicks.indexOf(v) >= 0 ? String(v) : ''; }
        },
        splitLine: { show: false }
      }
    ],
    visualMap: {
      show: false,
      type: 'continuous',
      min: 0,
      max: colorMax,
      seriesIndex: 0,
      inRange: { color: rocketStops }
    },
    graphic: [{
      type: 'rect',
      z: 0,
      shape: { x: 846, y: 130, width: 40, height: 814 },
      style: { fill: gradient }
    }],
    series: [{
      type: 'heatmap',
      xAxisIndex: 0,
      yAxisIndex: 0,
      data: cells,
      progressive: 0,
      itemStyle: { borderColor: '#ffffff', borderWidth: 1 },
      emphasis: { disabled: true }
    }]
  };
  myChart.setOption(option);
  window.addEventListener('resize', function () {
    myChart.resize();
  });
} catch (error) {
  console.error('Failed to render chart:', error);
  document.body.innerHTML = `<div style="color: red;">Error rendering chart: ${error}</div>`;
}
</script>
</body>
</html>
